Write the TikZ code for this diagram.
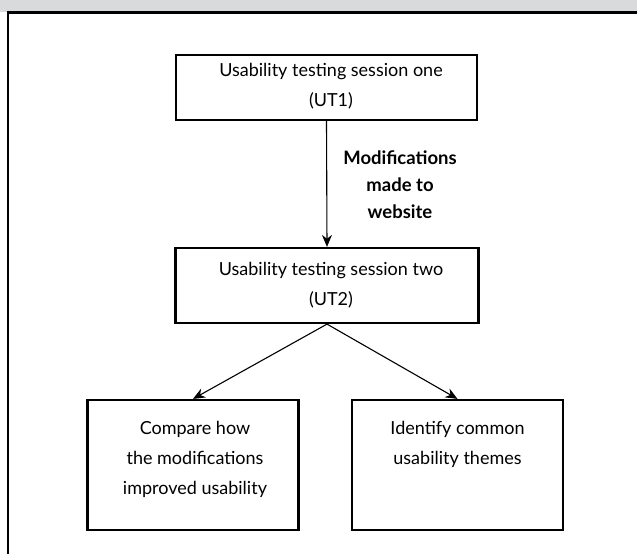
\documentclass[tikz,border=0pt]{standalone}
\usepackage{fontspec}
\setmainfont{Lato}
\usetikzlibrary{arrows.meta}
\definecolor{bandgray}{RGB}{217,218,220}
\tikzset{
  box/.style={draw=black, line width=2.2pt, rectangle, inner sep=0pt},
  boxtext/.style={anchor=north, align=center, font=\fontsize{18}{30}\selectfont, inner sep=0pt},
  labeltext/.style={align=center, font=\fontsize{18.5}{27}\selectfont\bfseries, inner sep=0pt},
  flow/.style={line width=1.1pt, -{Stealth[length=12pt,width=10pt]}}
}
\begin{document}
\begin{tikzpicture}[x=1pt,y=-1pt]
  \useasboundingbox (0,0) rectangle (637,554);
  % header band and frame
  \fill[bandgray] (0,0) rectangle (637,11.5);
  \draw[line width=2.5pt] (8,554) -- (8,12.5) -- (637,12.5);

  % boxes
  \node[box, minimum width=301pt, minimum height=65pt] (ut1) at (326.5,87.5) {};
  \node[box, minimum width=303pt, minimum height=75pt] (ut2) at (327,285.5) {};
  \node[box, minimum width=211pt, minimum height=130pt] (cmp) at (193,465) {};
  \node[box, minimum width=211pt, minimum height=130pt] (ident) at (457.5,465) {};

  % box texts
  \node[boxtext] (t1) at (331,63) {Usability testing session one\\(UT1)};
  \node[boxtext] (t2) at (331,262) {Usability testing session two\\(UT2)};
  \node[boxtext] (t3) at (195,421) {Compare how\\the modifications\\improved usability};
  \node[boxtext] (t4) at (457.5,421) {Identify common\\usability themes};

  % connectors
  \draw[flow] (ut1.south) -- (ut2.north);
  \node[labeltext] (lbl) at (400,185) {Modifications\\made to\\website};
  \draw[flow] (ut2.south) -- (cmp.north);
  \draw[flow] (ut2.south) -- (ident.north);
\end{tikzpicture}
\end{document}
